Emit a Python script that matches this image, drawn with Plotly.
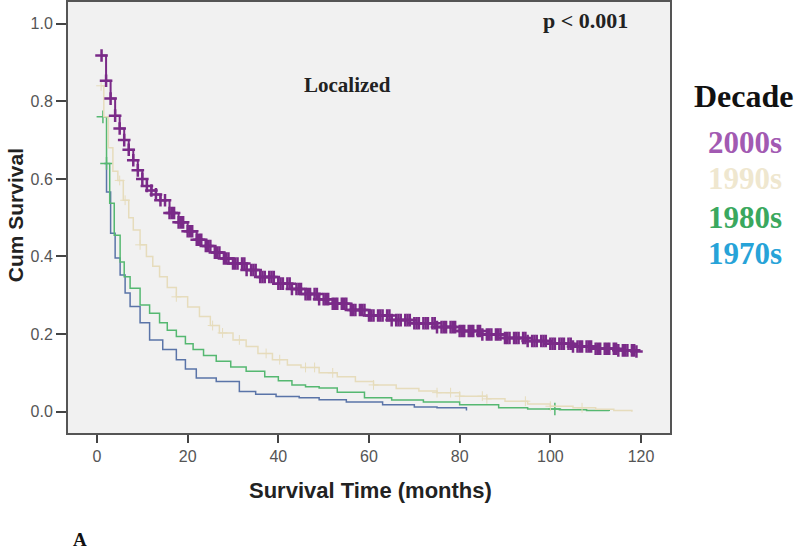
import plotly.graph_objects as go

# ---- data ----
t_2000 = [1, 2, 3, 4, 5, 6, 7, 8, 9, 10, 11, 12, 13, 14, 16, 18, 20, 22, 24, 26, 28, 30, 33, 36, 40, 43, 46, 49, 52, 56, 60, 65, 70, 75, 80, 85, 90, 95, 100, 105, 110, 115, 119]
s_2000 = [0.918, 0.853, 0.807, 0.763, 0.73, 0.70, 0.675, 0.648, 0.622, 0.60, 0.582, 0.57, 0.56, 0.545, 0.512, 0.488, 0.465, 0.443, 0.427, 0.41, 0.395, 0.382, 0.365, 0.347, 0.33, 0.316, 0.303, 0.29, 0.278, 0.262, 0.248, 0.236, 0.228, 0.218, 0.208, 0.199, 0.19, 0.182, 0.175, 0.168, 0.162, 0.158, 0.155]
c_2000 = [1, 2, 3, 4, 5, 6, 7, 8, 9, 10, 11, 12, 13, 14, 15, 16, 17, 18, 19, 20, 21, 22, 23, 24, 25, 26, 27, 28, 29, 30,
          31, 32, 33, 34, 35, 36, 37, 38, 39, 40, 41, 42, 43, 44, 45, 46, 47, 48, 49, 50, 51, 52, 53, 54, 55, 56, 57, 58, 59, 60,
          61, 62, 63, 64, 65, 66, 67, 68, 69, 70, 71, 72, 73, 74, 75, 76, 77, 78, 79, 80, 81, 82, 83, 84, 85, 86, 87, 88, 89, 90,
          91, 92, 93, 94, 95, 96, 97, 98, 99, 100, 101, 102, 103, 104, 105, 106, 107, 108, 109, 110, 111, 112, 113, 114, 115, 116, 117, 118, 119,
          16.5, 18.5, 20.5, 22.5, 24.5, 26.5, 28.5, 30.5, 32.5, 34.5, 36.5, 38.5, 40.5, 42.5, 44.5, 46.5, 48.5, 50.5, 52.5, 54.5,
          56.5, 58.5, 60.5, 62.5, 64.5, 66.5, 68.5, 70.5, 72.5, 74.5, 76.5, 78.5, 80.5, 82.5, 84.5, 86.5, 88.5, 90.5, 92.5, 94.5,
          96.5, 98.5, 100.5, 102.5, 104.5, 106.5, 108.5, 110.5, 112.5, 114.5, 116.5, 118.5]

t_1990 = [0.9, 1.5, 2.5, 3.5, 4.6, 5.8, 7, 8, 9.5, 10.9, 12.3, 13.8, 15.5, 17.5, 20, 22.6, 25, 27, 30, 32.9, 35.5, 38.7, 42, 45, 49, 53, 57, 61, 66, 71, 75, 80, 86, 90, 95, 100, 105, 110, 114, 118]
s_1990 = [0.84, 0.76, 0.68, 0.62, 0.596, 0.545, 0.50, 0.468, 0.43, 0.40, 0.375, 0.348, 0.32, 0.296, 0.27, 0.245, 0.222, 0.203, 0.185, 0.168, 0.15, 0.134, 0.12, 0.114, 0.10, 0.09, 0.078, 0.069, 0.06, 0.053, 0.049, 0.04, 0.033, 0.027, 0.02, 0.014, 0.01, 0.006, 0.003, 0.0]
c_1990 = [0.9, 5, 6.2, 9.5, 17.5, 25.5, 27.7, 31.4, 37.3, 40.3, 46, 48, 52, 61, 75, 78, 80, 85, 86, 94.5, 100, 107]

t_1980 = [1.3, 2.1, 2.8, 3.8, 5.1, 6, 7.3, 9.5, 11.6, 13.8, 15.5, 17.5, 19.5, 21.2, 23.5, 26.3, 29.5, 32.9, 37, 40, 43, 46, 49, 53, 59, 65, 72, 80, 88.6, 95, 102, 108, 113]
s_1980 = [0.76, 0.64, 0.537, 0.455, 0.386, 0.348, 0.318, 0.275, 0.254, 0.229, 0.21, 0.194, 0.175, 0.16, 0.145, 0.13, 0.115, 0.104, 0.09, 0.08, 0.069, 0.064, 0.061, 0.05, 0.036, 0.03, 0.025, 0.018, 0.01, 0.007, 0.005, 0.003, 0.002]
c_1980 = [1.3, 2.1, 101]

t_1970 = [1.6, 2.1, 3.0, 4.0, 5.1, 6.2, 7.3, 9.5, 11.6, 14.5, 17.5, 19.5, 21.9, 26.3, 31.4, 35, 39.5, 44.6, 49, 55, 63, 70, 75, 81.5]
s_1970 = [0.64, 0.566, 0.46, 0.396, 0.352, 0.306, 0.271, 0.229, 0.185, 0.16, 0.134, 0.11, 0.087, 0.078, 0.052, 0.045, 0.039, 0.036, 0.031, 0.025, 0.018, 0.012, 0.01, 0.003]
c_1970 = []

decades = ["2000s", "1990s", "1980s", "1970s"]
x_ticks = [0, 20, 40, 60, 80, 100, 120]
y_ticks = [0.0, 0.2, 0.4, 0.6, 0.8, 1.0]


def step_value(ts, ss, t):
    v = ss[0]
    for ti, si in zip(ts, ss):
        if ti <= t:
            v = si
    return v


line_cols = {"2000s": "#7a2a88", "1990s": "#e6dcbc", "1980s": "#55b871", "1970s": "#5a74a8"}
text_cols = {"2000s": "#a25ab2", "1990s": "#efe7cf", "1980s": "#3aa85e", "1970s": "#27a3d8"}
series = {
    "1970s": (t_1970, s_1970, c_1970, 6, 1),
    "1980s": (t_1980, s_1980, c_1980, 9, 1.5),
    "1990s": (t_1990, s_1990, c_1990, 7, 1),
    "2000s": (t_2000, s_2000, c_2000, 9, 2.5),
}

fig = go.Figure()
for name in ["1970s", "1980s", "1990s", "2000s"]:
    ts, ss, cs, msize, mw = series[name]
    lw = 2 if name == "2000s" else 1.5
    fig.add_trace(go.Scatter(x=ts, y=ss, mode="lines", line=dict(color=line_cols[name], width=lw, shape="hv"),
                             showlegend=False, hoverinfo="skip"))
    if cs:
        fig.add_trace(go.Scatter(x=cs, y=[step_value(ts, ss, c) for c in cs], mode="markers",
                                 marker=dict(symbol="cross-thin", size=msize,
                                             line=dict(color=line_cols[name], width=mw)),
                                 showlegend=False, hoverinfo="skip"))

sans = "Liberation Sans, Arial"
tick_font = dict(family=sans, size=16, color="#555")

L, R, T, B = 68, 670, 1.5, 433
fig.update_layout(
    width=800, height=550,
    margin=dict(l=L, r=800 - R, t=T, b=550 - B),
    paper_bgcolor="white", plot_bgcolor="#f1f1f1",
    xaxis=dict(range=[-6.4, 126.4], tickvals=x_ticks, ticktext=[str(v) for v in x_ticks], automargin=False,
               showgrid=False, zeroline=False, showline=True, mirror=True, linecolor="#555", linewidth=2,
               ticks="outside", ticklen=8, tickcolor="#444", tickwidth=2, tickfont=tick_font),
    yaxis=dict(range=[-0.055, 1.056], tickvals=y_ticks, ticktext=[f"{v:.1f}" for v in y_ticks], automargin=False,
               showgrid=False, zeroline=False, showline=True, mirror=True, linecolor="#555", linewidth=2,
               ticks="outside", ticklen=10, tickcolor="#444", tickwidth=2, tickfont=tick_font),
)

serif = "Liberation Serif, Times New Roman, DejaVu Serif"


def add_px_text(text, x, y, size, color, family=serif, angle=0):
    fig.add_annotation(text=text, x=(x - L) / (R - L), y=(B - y) / (B - T), xref="paper", yref="paper",
                       showarrow=False, xanchor="center", yanchor="middle", textangle=angle,
                       font=dict(family=family, size=size, color=color))


add_px_text("<b>Survival Time (months)</b>", 370, 491, 22, "#222", family=sans)
add_px_text("<b>Cum Survival</b>", 15, 215, 21, "#222", family=sans, angle=-90)
add_px_text("<b>p &lt; 0.001</b>", 585, 20, 22, "#222")
add_px_text("<b>Localized</b>", 347, 85, 21, "#222")
add_px_text("<b>Decade</b>", 744, 96, 32, "#111")
for name, yy in zip(decades, [142, 178, 217, 253]):
    add_px_text(f"<b>{name}</b>", 745, yy, 31, text_cols[name])
add_px_text("<b>A</b>", 80, 540, 19, "#111")

fig.write_html("out.html", config={"displayModeBar": False},
               post_script="document.body.style.margin='0px';")
